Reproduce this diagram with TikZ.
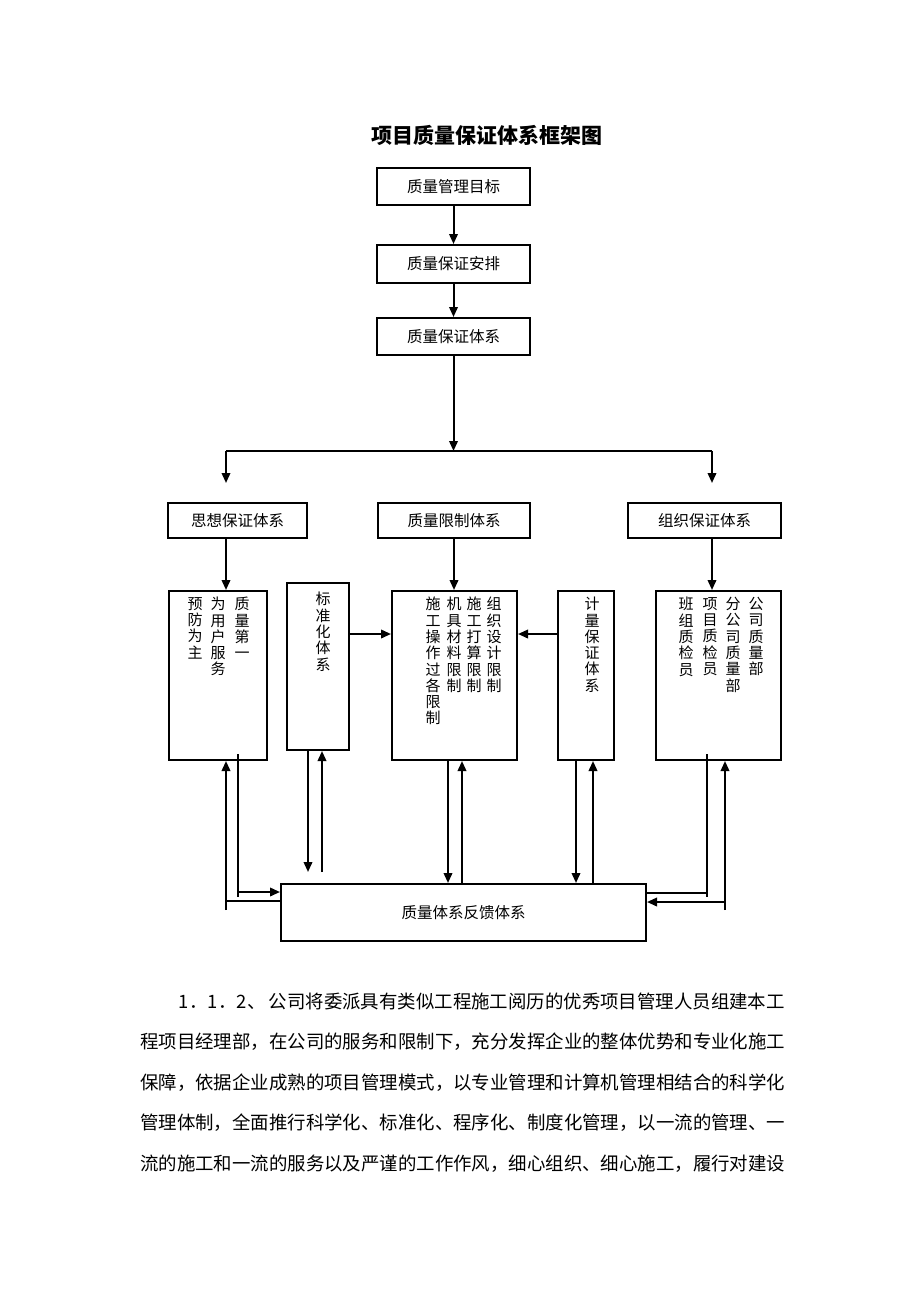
\documentclass[tikz,border=0pt]{standalone}
\usepackage{fontspec}
\setmainfont{Noto Sans CJK SC}
\usetikzlibrary{arrows.meta}
\begin{document}
\begin{tikzpicture}[x=1pt,y=-1pt,
 box/.style={draw,line width=2pt,inner sep=0pt,font=\fontsize{15.5}{18}\selectfont},
 ln/.style={line width=2pt},
 arr/.style={line width=2pt,-{Triangle[length=10pt,width=8.5pt]}},
 vt/.style={font=\fontsize{15}{16.3}\selectfont,align=center,inner sep=0pt,anchor=north},
 para/.style={font=\fontsize{18.43}{20}\selectfont,anchor=base west,inner sep=0pt}]
\useasboundingbox[fill=white] (0,0) rectangle (920,1302);

\node[font=\fontsize{21}{24}\selectfont\bfseries] (title) at (487,135) {项目质量保证体系框架图};

% top chain
\node[box,minimum width=153pt,minimum height=37pt] (b1) at (453.5,186.5) {质量管理目标};
\node[box,minimum width=153pt,minimum height=38pt] (b2) at (453.5,264) {质量保证安排};
\node[box,minimum width=153pt,minimum height=37pt] (b3) at (453.5,336.5) {质量保证体系};
\draw[arr] (b1.south) -- (b2.north);
\draw[arr] (b2.south) -- (b3.north);

% second tier
\node[box,minimum width=139pt,minimum height=35pt] (t1) at (237.5,520.5) {思想保证体系};
\node[box,minimum width=152pt,minimum height=35pt] (t2) at (454,520.5) {质量限制体系};
\node[box,minimum width=153pt,minimum height=35pt] (t3) at (704.5,520.5) {组织保证体系};

\coordinate (j) at (453.5,451);
\coordinate (jl) at (226,451);
\coordinate (jr) at (712,451);
\coordinate (tipl) at (226,483);
\coordinate (tipr) at (712,483);
\draw[arr] (b3.south) -- (j);
\draw[ln] (jl) -- (jr);
\draw[arr] (jl) -- (tipl);
\draw[arr] (jr) -- (tipr);

% third tier boxes
\node[box,minimum width=98pt,minimum height=169pt] (A) at (218,675.5) {};
\node[box,minimum width=62pt,minimum height=167pt] (B) at (318,666.5) {};
\node[box,minimum width=125pt,minimum height=169pt] (C) at (454.5,675.5) {};
\node[box,minimum width=56pt,minimum height=169pt] (D) at (586,675.5) {};
\node[box,minimum width=125pt,minimum height=169pt] (E) at (718.5,675.5) {};

\draw[arr] (jl |- t1.south) -- (jl |- A.north);
\draw[arr] (t2.south) -- (t2.south |- C.north);
\draw[arr] (jr |- t3.south) -- (jr |- E.north);

\coordinate (h) at (0,634);
\draw[arr] (B.east |- h) -- (C.west |- h);
\draw[arr] (D.west |- h) -- (C.east |- h);

% vertical texts
\node[vt] (a1) at (242,597) {质\\量\\第\\一};
\node[vt] (a2) at (218,597) {为\\用\\户\\服\\务};
\node[vt] (a3) at (195,597) {预\\防\\为\\主};
\node[vt] (bt) at (323,592) {标\\准\\化\\体\\系};
\node[vt] (c1) at (494,597) {组\\织\\设\\计\\限\\制};
\node[vt] (c2) at (474,597) {施\\工\\打\\算\\限\\制};
\node[vt] (c3) at (454,597) {机\\具\\材\\料\\限\\制};
\node[vt] (c4) at (433,597) {施\\工\\操\\作\\过\\各\\限\\制};
\node[vt] (dt) at (592,597) {计\\量\\保\\证\\体\\系};
\node[vt] (e1) at (756,597) {公\\司\\质\\量\\部};
\node[vt] (e2) at (733,597) {分\\公\\司\\质\\量\\部};
\node[vt] (e3) at (710,597) {项\\目\\质\\检\\员};
\node[vt] (e4) at (686,597) {班\\组\\质\\检\\员};

% feedback box
\node[box,minimum width=365pt,minimum height=57pt] (F) at (463.5,912.5) {质量体系反馈体系};

% A connections
\coordinate (aU) at (226,910);
\coordinate (aH) at (226,901);
\coordinate (aD1) at (238,754);
\coordinate (aD2) at (238,897);
\coordinate (aR) at (238,892);
\draw[arr] (aU) -- (aU |- A.south);
\draw[ln] (F.west |- aH) -- (aH);
\draw[ln] (aD1) -- (aD2);
\draw[arr] (aR) -- (F.west |- aR);

% B connections
\coordinate (bD) at (308,872);
\coordinate (bU) at (322,872);
\draw[arr] (bD |- B.south) -- (bD);
\draw[arr] (bU) -- (bU |- B.south);

% C connections
\coordinate (cD) at (448,0);
\coordinate (cU) at (462,0);
\draw[arr] (cD |- C.south) -- (cD |- F.north);
\draw[arr] (cU |- F.north) -- (cU |- C.south);

% D connections
\coordinate (dD) at (576,0);
\coordinate (dU) at (593,0);
\draw[arr] (dD |- D.south) -- (dD |- F.north);
\draw[arr] (dU |- F.north) -- (dU |- D.south);

% E connections
\coordinate (eD1) at (707,754);
\coordinate (eD2) at (707,897);
\coordinate (eH) at (707,893);
\coordinate (eU) at (725,910);
\coordinate (eL) at (725,902);
\draw[ln] (eD1) -- (eD2);
\draw[ln] (eH) -- (F.east |- eH);
\draw[arr] (eU) -- (eU |- E.south);
\draw[arr] (eL) -- (F.east |- eL);

% paragraph
\node[para] (p0) at (178,1008) {\makebox[88pt][s]{1\hfil．1\hfil．2\hfil、}};
\node[para,anchor=base east] (p1) at (785,1008) {公司将委派具有类似工程施工阅历的优秀项目管理人员组建本工};
\node[para] (p2) at (140,1048.5) {程项目经理部，在公司的服务和限制下，充分发挥企业的整体优势和专业化施工};
\node[para] (p3) at (140,1089) {保障，依据企业成熟的项目管理模式，以专业管理和计算机管理相结合的科学化};
\node[para] (p4) at (140,1129.5) {管理体制，全面推行科学化、标准化、程序化、制度化管理，以一流的管理、一};
\node[para] (p5) at (140,1170) {流的施工和一流的服务以及严谨的工作作风，细心组织、细心施工，履行对建设};
\end{tikzpicture}
\end{document}
